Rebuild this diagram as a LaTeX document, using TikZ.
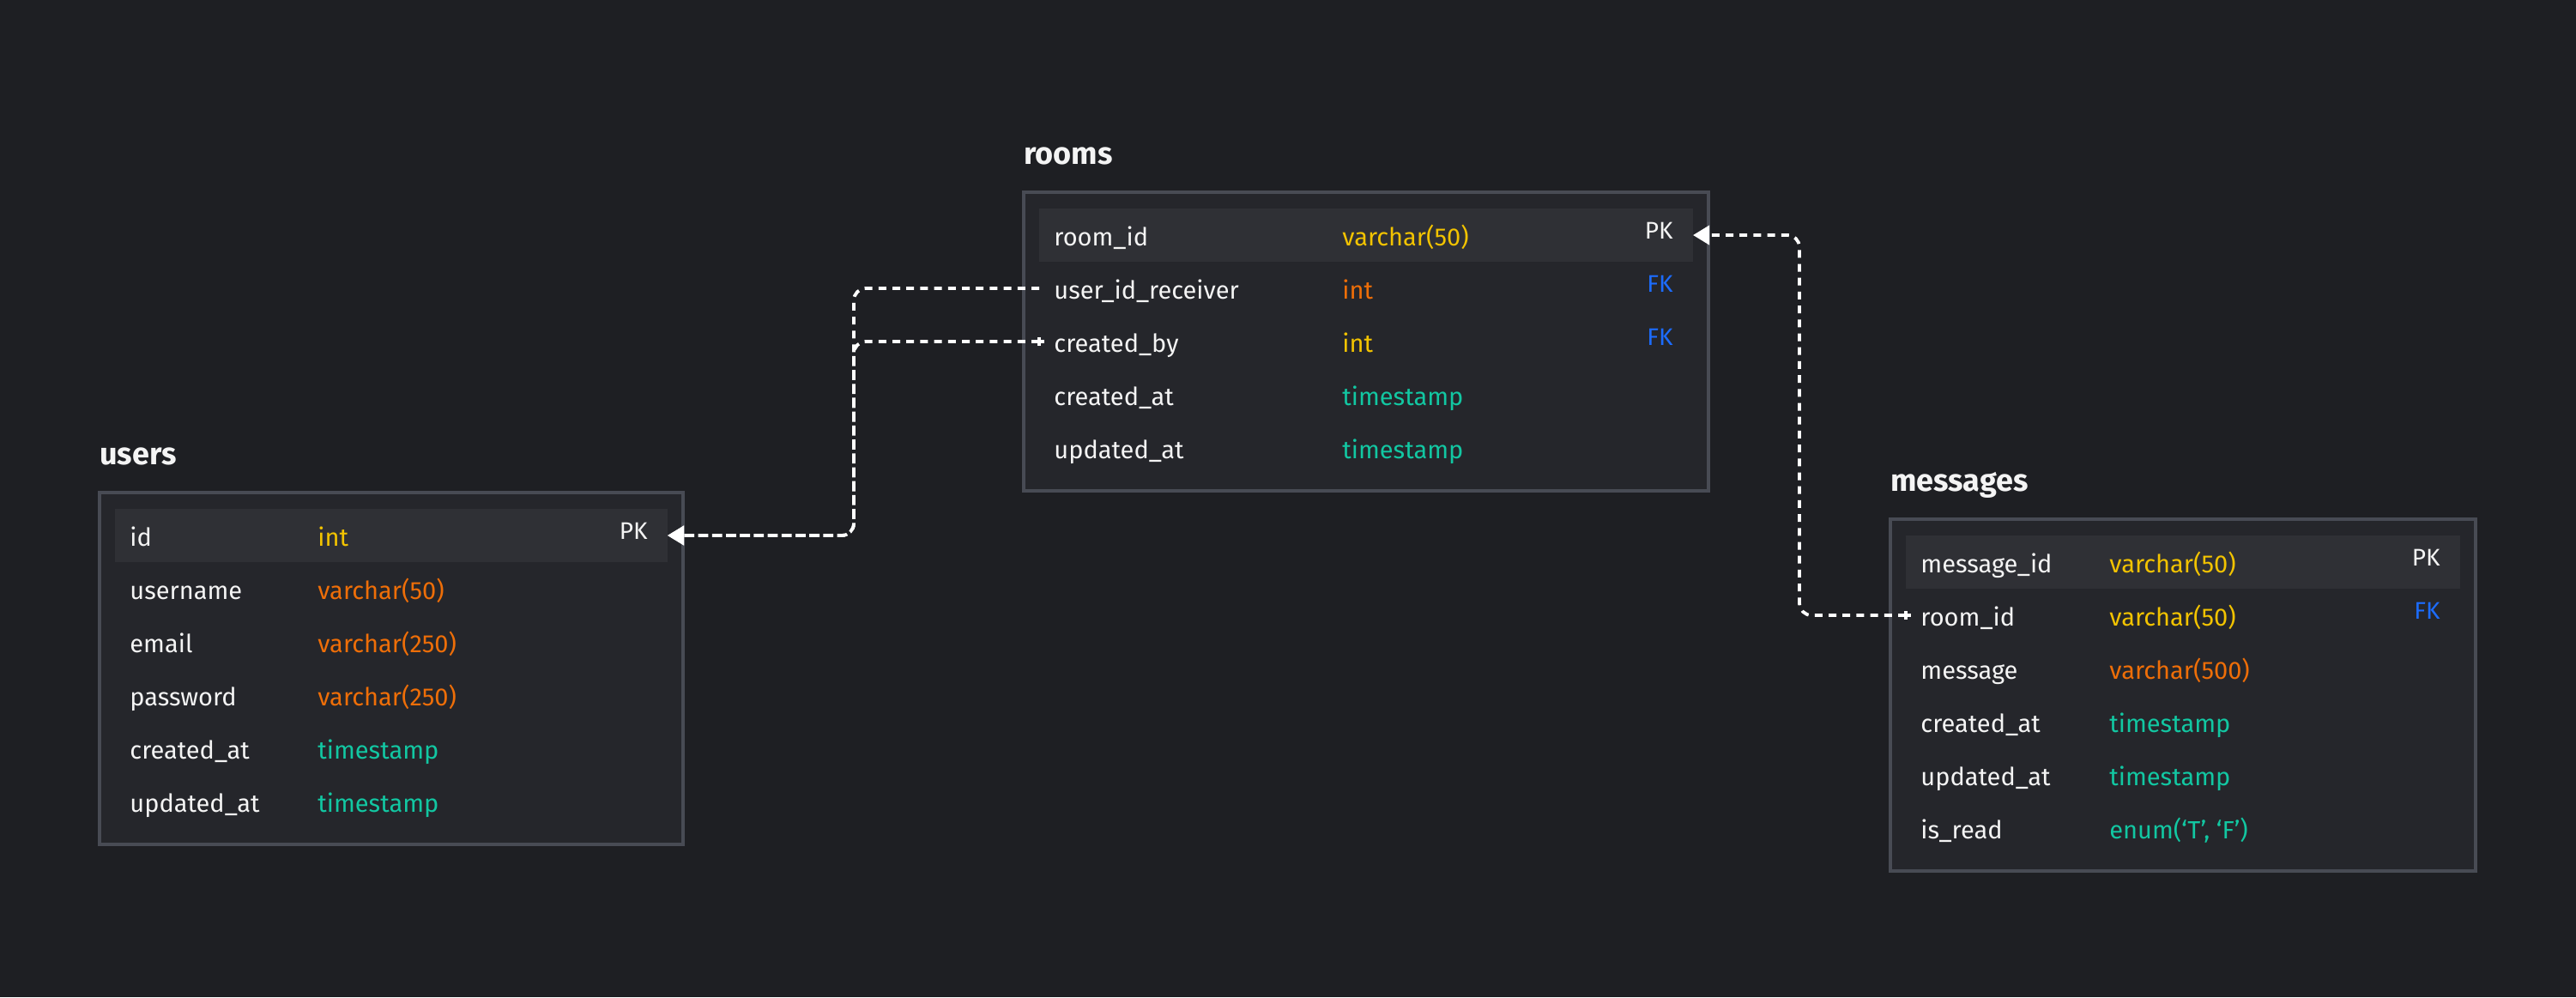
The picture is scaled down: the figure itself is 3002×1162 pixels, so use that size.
\documentclass[tikz,border=0pt]{standalone}
\usepackage{fontspec}
\setmainfont{Fira Sans}
\usetikzlibrary{arrows.meta,positioning}
\definecolor{canvas}{HTML}{1E1F23}
\definecolor{boxfill}{HTML}{25262B}
\definecolor{boxline}{HTML}{484B54}
\definecolor{rowhl}{HTML}{2F3035}
\definecolor{fieldwhite}{HTML}{F4F4F4}
\definecolor{typeyellow}{HTML}{F2C300}
\definecolor{typeorange}{HTML}{EE6E08}
\definecolor{typeteal}{HTML}{12C7A2}
\definecolor{keyblue}{HTML}{1C6CFF}
\tikzset{
  tablebox/.style={draw=boxline, fill=boxfill, line width=2pt, inner sep=0pt, outer sep=0pt},
  tabletitle/.style={font=\bfseries\fontsize{18}{22}\selectfont, text=fieldwhite, inner sep=0pt, text depth=0pt},
  fieldrow/.style={minimum width=\rowwidth, minimum height=31pt, inner sep=0pt, outer sep=0pt},
  fieldname/.style={inner sep=0pt, text height=14pt, text depth=2pt, font=\fontsize{14.5}{17}\selectfont, text=fieldwhite},
  fieldtype/.style={fieldname},
  keytag/.style={fieldname, font=\fontsize{14}{17}\selectfont, yshift=4pt},
  fklink/.style={draw=white, line width=1.9pt, dash pattern=on 4.5pt off 3.6pt, rounded corners=7pt, -{Triangle[length=9.5pt,width=11pt]}},
  plusmark/.style={draw=white, line width=1.7pt, solid}
}
\def\typeoff{118pt}
\def\rowwidth{322pt}
\def\tabrow[#1](#2)(#3)#4#5#6{%
  \node[fieldrow,#1] (#2) at (#3) {};
  \node[fieldname, right=8.5pt of #2.west] (#2-name) {#4};
  \node[fieldtype, text=#6, right=\typeoff of #2.west] (#2-type) {#5};
}

\begin{document}
\begin{tikzpicture}[x=0.5pt,y=-0.5pt]
  %%%%% START %%%%%

  \fill[canvas] (0,0) rectangle (3002,1162);

  % users
  \node[tablebox, minimum width=340pt, minimum height=205pt] (users) at (456,779) {};
  \node[tabletitle, above right=16pt and 0pt of users.north west] (users-title) {users};
  \def\typeoff{118pt}
  \def\rowwidth{322pt}
  \tabrow[fill=rowhl](users-id)(456,624){id}{int}{typeyellow}
  \tabrow[](users-username)(456,686){username}{varchar(50)}{typeorange}
  \tabrow[](users-email)(456,748){email}{varchar(250)}{typeorange}
  \tabrow[](users-password)(456,810){password}{varchar(250)}{typeorange}
  \tabrow[](users-created)(456,872){created\_at}{timestamp}{typeteal}
  \tabrow[](users-updated)(456,934){updated\_at}{timestamp}{typeteal}
  \node[keytag, left=11.5pt of users-id.east] (users-pk) {PK};

  % rooms
  \node[tablebox, minimum width=399pt, minimum height=174pt] (rooms) at (1592,398) {};
  \node[tabletitle, above right=16pt and 0pt of rooms.north west] (rooms-title) {rooms};
  \def\typeoff{176.5pt}
  \def\rowwidth{381pt}
  \tabrow[fill=rowhl](rooms-roomid)(1592,274){room\_id}{varchar(50)}{typeyellow}
  \tabrow[](rooms-receiver)(1592,336){user\_id\_receiver}{int}{typeorange}
  \tabrow[](rooms-createdby)(1592,398){created\_by}{int}{typeyellow}
  \tabrow[](rooms-created)(1592,460){created\_at}{timestamp}{typeteal}
  \tabrow[](rooms-updated)(1592,522){updated\_at}{timestamp}{typeteal}
  \node[keytag, left=11.5pt of rooms-roomid.east] (rooms-pk) {PK};
  \node[keytag, text=keyblue, left=11.5pt of rooms-receiver.east] (rooms-fk1) {FK};
  \node[keytag, text=keyblue, left=11.5pt of rooms-createdby.east] (rooms-fk2) {FK};

  % messages
  \node[tablebox, minimum width=341pt, minimum height=205pt] (messages) at (2544,810) {};
  \node[tabletitle, above right=16pt and 0pt of messages.north west] (messages-title) {messages};
  \def\typeoff{118.5pt}
  \def\rowwidth{323pt}
  \tabrow[fill=rowhl](messages-msgid)(2544,655){message\_id}{varchar(50)}{typeyellow}
  \tabrow[](messages-roomid)(2544,717){room\_id}{varchar(50)}{typeyellow}
  \tabrow[](messages-message)(2544,779){message}{varchar(500)}{typeorange}
  \tabrow[](messages-created)(2544,841){created\_at}{timestamp}{typeteal}
  \tabrow[](messages-updated)(2544,903){updated\_at}{timestamp}{typeteal}
  \tabrow[](messages-isread)(2544,965){is\_read}{enum(‘T’, ‘F’)}{typeteal}
  \node[keytag, left=11.5pt of messages-msgid.east] (messages-pk) {PK};
  \node[keytag, text=keyblue, left=11.5pt of messages-roomid.east] (messages-fk) {FK};

  % links
  \coordinate (ujoin) at (995,0);
  \coordinate (rjoin) at (2097,0);
  \draw[fklink] (rooms-receiver.west) -- (rooms-receiver.west -| ujoin) -- (users-id.east -| ujoin) -- (users-id.east);
  \draw[fklink] (rooms-createdby.west) -- (rooms-createdby.west -| ujoin) -- (users-id.east -| ujoin) -- (users-id.east);
  \draw[fklink] (messages-roomid.west) -- (messages-roomid.west -| rjoin) -- (rooms-roomid.east -| rjoin) -- (rooms-roomid.east);
  \draw[plusmark] (rooms-createdby.west) +(-3pt,0) -- +(3pt,0) +(0,-2.5pt) -- +(0,2.5pt);
  \draw[plusmark] (messages-roomid.west) +(-3pt,0) -- +(3pt,0) +(0,-2.5pt) -- +(0,2.5pt);

  %%%%% END %%%%%
\end{tikzpicture}
\end{document}
